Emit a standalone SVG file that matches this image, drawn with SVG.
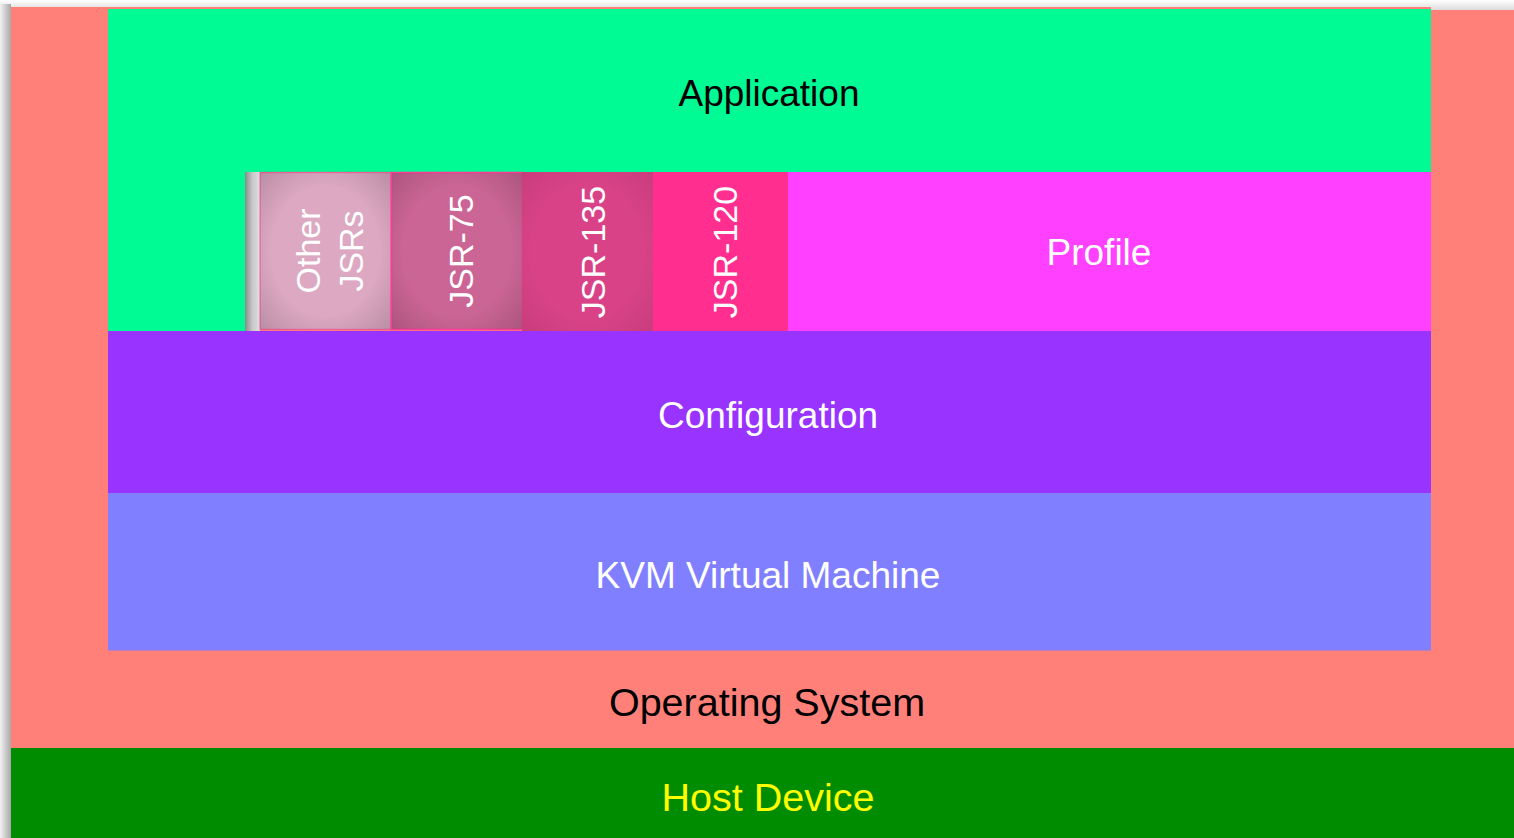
<svg xmlns="http://www.w3.org/2000/svg" width="1514" height="838" viewBox="0 0 1514 838">
  <defs>
    <linearGradient id="shadeLeft" x1="0" y1="0" x2="1" y2="0">
      <stop offset="0" stop-color="#f2f2f2"/>
      <stop offset="1" stop-color="#a8a8a8"/>
    </linearGradient>
    <linearGradient id="shadeTop" x1="0" y1="0" x2="0" y2="1">
      <stop offset="0" stop-color="#ffffff"/>
      <stop offset="1" stop-color="#dcdcdc"/>
    </linearGradient>
    <linearGradient id="strip" x1="0" y1="0" x2="1" y2="0">
      <stop offset="0" stop-color="#8a8a8a"/>
      <stop offset="0.5" stop-color="#c8c8c8"/>
      <stop offset="1" stop-color="#e0e0e0"/>
    </linearGradient>
    <radialGradient id="vignette" cx="0.5" cy="0.5" r="0.75">
      <stop offset="0.55" stop-color="#000" stop-opacity="0"/>
      <stop offset="1" stop-color="#000" stop-opacity="0.18"/>
    </radialGradient>
    <style>
      .lbl { font-family: "Liberation Sans", Arial, sans-serif; font-size: 37px; text-anchor: middle; }
      .big { font-size: 39.5px; }
      .vlbl { font-family: "Liberation Sans", Arial, sans-serif; font-size: 34px; text-anchor: middle; fill: #ffffff; }
      .jsr { stroke: #ff3a98; stroke-width: 1.5; }
    </style>
  </defs>

  <!-- page and soft edge shadow -->
  <rect x="0" y="0" width="1514" height="838" fill="#ffffff"/>
  <rect x="0" y="0" width="1514" height="10" fill="url(#shadeTop)"/>
  <rect x="0" y="4" width="11" height="834" fill="url(#shadeLeft)"/>

  <!-- operating system frame -->
  <g id="operating-system">
    <rect x="11" y="7" width="1503" height="741" fill="#ff7f79"/>
    <rect x="1431" y="0" width="83" height="10" fill="url(#shadeTop)"/>
    <text class="lbl big" x="767" y="716" fill="#000000">Operating System</text>
  </g>

  <!-- host device -->
  <g id="host-device">
    <rect x="11" y="748" width="1503" height="90" fill="#008c00"/>
    <text class="lbl big" x="768" y="811" fill="#ffff00">Host Device</text>
  </g>

  <!-- application layer -->
  <g id="application">
    <path d="M108 9 H1431 V172 H245 V332 H108 Z" fill="#00fa93"/>
    <text class="lbl" x="769" y="106" fill="#000000">Application</text>
  </g>

  <!-- profile -->
  <g id="profile">
    <rect x="788" y="172" width="643" height="159" fill="#ff40ff"/>
    <text class="lbl" x="1099" y="265" fill="#ffffff">Profile</text>
  </g>

  <!-- optional packages -->
  <g id="other-jsrs">
    <rect x="245" y="172" width="15" height="159" fill="url(#strip)"/>
    <rect class="jsr" x="260" y="172.5" width="131" height="157" fill="#dca8c2" stroke-opacity="0.5"/>
    <rect x="260" y="172.5" width="131" height="157" fill="url(#vignette)"/>
    <text class="vlbl" transform="translate(320 251) rotate(-90)">Other</text>
    <text class="vlbl" transform="translate(363 251) rotate(-90)">JSRs</text>
  </g>
  <g id="jsr-75">
    <rect class="jsr" x="391.5" y="172.5" width="131" height="157" fill="#cb6595"/>
    <rect x="392" y="173" width="130" height="156" fill="url(#vignette)"/>
    <text class="vlbl" transform="translate(473 251) rotate(-90)">JSR-75</text>
  </g>
  <g id="jsr-135">
    <rect x="522" y="172" width="131" height="159" fill="#d94287"/>
    <rect x="522" y="172" width="131" height="159" fill="url(#vignette)" opacity="0.5"/>
    <text class="vlbl" transform="translate(605 252) rotate(-90)">JSR-135</text>
  </g>
  <g id="jsr-120">
    <rect x="653" y="172" width="135" height="159" fill="#ff2e8f"/>
    <text class="vlbl" transform="translate(737 252) rotate(-90)">JSR-120</text>
  </g>

  <!-- configuration -->
  <g id="configuration">
    <rect x="108" y="331" width="1323" height="162" fill="#9933ff"/>
    <text class="lbl" x="768" y="428" fill="#ffffff">Configuration</text>
  </g>

  <!-- virtual machine -->
  <g id="kvm">
    <rect x="108" y="493" width="1323" height="157.5" fill="#7f7fff"/>
    <text class="lbl" x="768" y="588" fill="#ffffff">KVM Virtual Machine</text>
  </g>
</svg>
